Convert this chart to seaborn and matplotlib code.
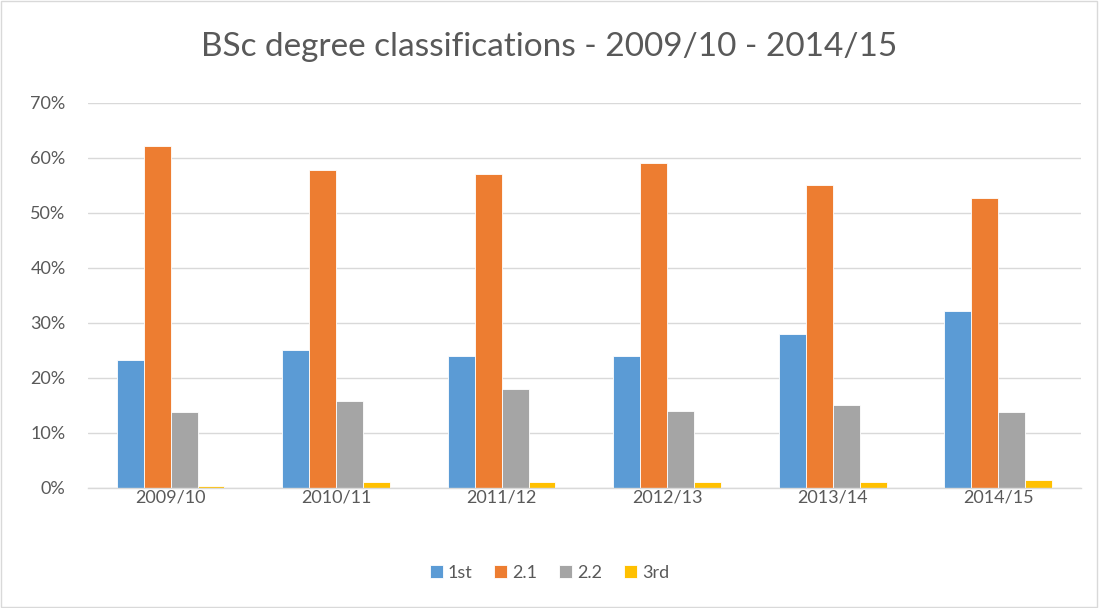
import pandas as pd
from matplotlib import pyplot as plt
from matplotlib.patches import Rectangle
from matplotlib.ticker import FuncFormatter
import seaborn as sns

years = ["2009/10", "2010/11", "2011/12", "2012/13", "2013/14", "2014/15"]
first = [23.3, 25.0, 24.0, 24.0, 28.0, 32.2]
upper_second = [62.1, 57.9, 57.0, 59.0, 55.0, 52.8]
lower_second = [13.9, 15.9, 18.0, 14.0, 15.0, 13.9]
third = [0.3, 1.0, 1.0, 1.0, 1.0, 1.5]
classes = ["1st", "2.1", "2.2", "3rd"]
colors = ["#5B9BD5", "#ED7D31", "#A5A5A5", "#FFC000"]

rows = []
for name, vals in zip(classes, [first, upper_second, lower_second, third]):
    for y, v in zip(years, vals):
        rows.append({"year": y, "class": name, "pct": v})
df = pd.DataFrame(rows)

sns.set_theme(style="white")
plt.rcParams['font.family'] = ['Lato', 'DejaVu Sans']

fig = plt.figure(figsize=(10.99, 6.08), dpi=100)
ax = fig.add_axes([0.080, 0.1974, 0.9036, 0.6332])

sns.barplot(ax=ax, data=df, x="year", y="pct", hue="class", palette=colors,
            width=0.65, saturation=1, edgecolor="white", linewidth=0.6)

ax.set_ylim(0, 70)
ax.set_yticks(range(0, 71, 10))
ax.yaxis.set_major_formatter(FuncFormatter(lambda v, p: f"{v:.0f}%"))
ax.grid(axis="y", color="#D9D9D9", linewidth=1)
ax.set_axisbelow(True)
for s in ["top", "right", "left"]:
    ax.spines[s].set_visible(False)
ax.spines["bottom"].set_color("#D9D9D9")
ax.spines["bottom"].set_linewidth(1)
ax.tick_params(axis="both", length=0, labelsize=13, labelcolor="#595959")
ax.tick_params(axis="x", pad=1)
ax.tick_params(axis="y", pad=16)
ax.set_xlabel("")
ax.set_ylabel("")
ax.set_xlim(-0.5, 5.5)

fig.text(0.5, 1 - 47 / 608, "BSc degree classifications - 2009/10 - 2014/15",
         ha="center", va="center", fontsize=24, color="#595959")

ax.legend(loc="center", bbox_to_anchor=(0.5, (608 - 573) / 608), bbox_transform=fig.transFigure,
          ncol=4, frameon=False, fontsize=13, handlelength=0.7, handleheight=0.7,
          handletextpad=0.3, columnspacing=1.2, labelcolor="#595959")

fig.patches.append(Rectangle((0.001, 0.001), 0.997, 0.997, transform=fig.transFigure,
                             fill=False, edgecolor="#D9D9D9", linewidth=1))

plt.savefig("out.png", dpi=100)
